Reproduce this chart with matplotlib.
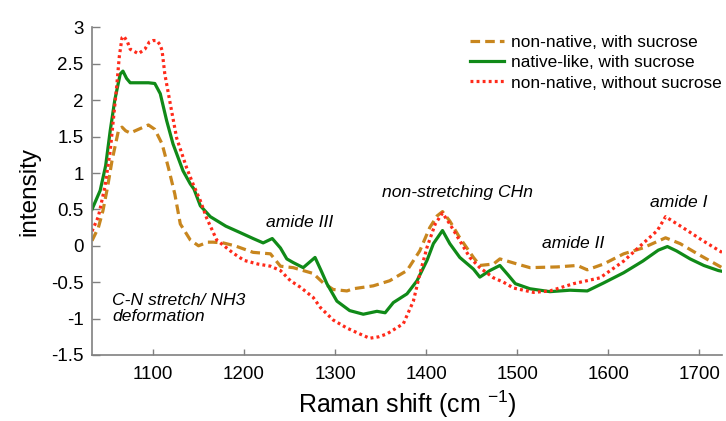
import matplotlib
matplotlib.use("Agg")
import matplotlib.pyplot as plt

plt.rcParams["font.family"] = ["Liberation Sans", "DejaVu Sans"]
plt.rcParams["mathtext.fontset"] = "custom"
plt.rcParams["mathtext.rm"] = "Liberation Sans"
plt.rcParams["mathtext.it"] = "Liberation Sans:italic"

# --- DATA ---
native_x = [1033, 1042, 1048, 1053, 1058, 1064, 1067, 1071, 1075, 1085, 1095, 1102, 1108,
            1115, 1122, 1133, 1141, 1145, 1152, 1163, 1180, 1196, 1210, 1221, 1231, 1240,
            1247, 1254, 1265, 1278, 1285, 1291, 1302, 1316, 1331, 1346, 1355, 1364, 1379,
            1390, 1401, 1408, 1418, 1426, 1437, 1452, 1459, 1470, 1481, 1490, 1498, 1514,
            1536, 1558, 1577, 1595, 1617, 1638, 1655, 1665, 1675, 1690, 1705, 1721, 1725]
native_y = [0.50, 0.76, 1.10, 1.58, 2.00, 2.36, 2.40, 2.30, 2.24, 2.24, 2.24, 2.23, 2.09,
            1.72, 1.40, 1.03, 0.85, 0.78, 0.55, 0.40, 0.27, 0.18, 0.10, 0.04, 0.10, -0.03,
            -0.18, -0.23, -0.30, -0.16, -0.35, -0.52, -0.76, -0.89, -0.94, -0.90, -0.92, -0.78, -0.66,
            -0.48, -0.20, 0.03, 0.21, 0.03, -0.16, -0.32, -0.43, -0.34, -0.27, -0.40, -0.52, -0.59,
            -0.63, -0.61, -0.62, -0.51, -0.37, -0.21, -0.06, -0.01, -0.07, -0.18, -0.27, -0.34, -0.35]

nosuc_x = [1033, 1040, 1047, 1053, 1057, 1060, 1063, 1066, 1068, 1072, 1075, 1084, 1091,
           1096, 1100, 1104, 1108, 1110, 1113, 1119, 1126, 1137, 1144, 1152, 1159, 1170,
           1188, 1200, 1215, 1229, 1240, 1251, 1262, 1276, 1284, 1298, 1313, 1327, 1338,
           1348, 1357, 1375, 1386, 1393, 1401, 1410, 1418, 1426, 1437, 1448, 1459, 1474,
           1485, 1496, 1518, 1536, 1562, 1591, 1617, 1638, 1654, 1663, 1682, 1704, 1725]
nosuc_y = [0.20, 0.40, 0.80, 1.30, 1.80, 2.17, 2.60, 2.86, 2.88, 2.80, 2.70, 2.64, 2.70,
           2.80, 2.82, 2.82, 2.76, 2.68, 2.36, 1.95, 1.48, 1.07, 0.85, 0.62, 0.38, 0.08,
           -0.10, -0.20, -0.25, -0.28, -0.34, -0.48, -0.57, -0.71, -0.85, -1.02, -1.13, -1.21, -1.27,
           -1.25, -1.21, -1.07, -0.76, -0.39, -0.02, 0.30, 0.45, 0.30, 0.07, -0.16, -0.30, -0.44,
           -0.50, -0.58, -0.64, -0.62, -0.52, -0.44, -0.21, 0.03, 0.21, 0.40, 0.25, 0.07, -0.09]

suc_x = [1033, 1040, 1045, 1050, 1055, 1062, 1066, 1070, 1075, 1084, 1095, 1102, 1110,
         1117, 1124, 1130, 1141, 1150, 1160, 1166, 1177, 1190, 1210, 1229, 1240, 1254,
         1276, 1287, 1298, 1313, 1320, 1342, 1360, 1379, 1393, 1404, 1412, 1418, 1426,
         1437, 1452, 1459, 1474, 1481, 1500, 1514, 1544, 1566, 1577, 1595, 1617, 1638,
         1663, 1679, 1698, 1725]
suc_y = [0.07, 0.25, 0.48, 0.80, 1.17, 1.58, 1.63, 1.58, 1.55, 1.60, 1.66, 1.60, 1.40,
         1.07, 0.71, 0.30, 0.08, 0.00, 0.05, 0.05, 0.04, 0.00, -0.09, -0.11, -0.28, -0.30,
         -0.38, -0.51, -0.60, -0.62, -0.59, -0.55, -0.48, -0.34, -0.07, 0.25, 0.41, 0.47, 0.34,
         0.11, -0.16, -0.27, -0.25, -0.18, -0.25, -0.30, -0.29, -0.27, -0.33, -0.25, -0.11, -0.03,
         0.11, 0.03, -0.11, -0.30]

series_labels = ["non-native, with sucrose", "native-like, with sucrose", "non-native, without sucrose"]

x_ticks = [1100, 1200, 1300, 1400, 1500, 1600, 1700]
y_ticks = [-1.5, -1, -0.5, 0, 0.5, 1, 1.5, 2, 2.5, 3]
y_tick_labels = ["-1.5", "-1", "-0.5", "0", "0.5", "1", "1.5", "2", "2.5", "3"]

# band annotations: (text, x, y)
bands = [
    ("amide III", 1224, 0.32),
    ("non-stretching CHn", 1352, 0.73),
    ("amide II", 1527, 0.03),
    ("amide I", 1646, 0.59),
    ("C-N stretch/ NH3\ndeformation", 1055, -0.86),
]

fig = plt.figure(figsize=(7.26, 4.21), dpi=100)
ax = fig.add_axes([0.1267, 0.1568, 0.8678, 0.778])

ax.plot(suc_x, suc_y, color="#C8861E", lw=2.3, dashes=(3.0, 1.6), label=series_labels[0])
ax.plot(native_x, native_y, color="#108A18", lw=2.3, label=series_labels[1])
ax.plot(nosuc_x, nosuc_y, color="#FF2A1A", lw=2.3, dashes=(0.9, 1.0), label=series_labels[2])

ax.set_xlim(1033, 1725)
ax.set_ylim(-1.5, 3)
ax.set_xticks(x_ticks)
ax.set_yticks(y_ticks)
ax.set_yticklabels(y_tick_labels)
ax.tick_params(axis="both", direction="in", labelsize=13.5, color="#808080", width=1.0)
ax.tick_params(axis="y", length=6, pad=6)
ax.tick_params(axis="x", length=4, pad=8)

for side in ["top", "right"]:
    ax.spines[side].set_visible(False)
for side in ["left", "bottom"]:
    ax.spines[side].set_color("#808080")
    ax.spines[side].set_linewidth(1.2)

ax.set_xlabel(r"Raman shift (cm $^{-1}$)", fontsize=18, labelpad=4)
ax.set_ylabel("intensity", fontsize=17.5, labelpad=8)

for txt, bx, by in bands:
    ax.text(bx, by, txt, fontsize=12.6, style="italic", ha="left", va="center", linespacing=1.1)

ax.legend(loc="upper left", bbox_to_anchor=(470 / 726, 1 - 35 / 421), bbox_transform=fig.transFigure,
          frameon=False, fontsize=12.4, handlelength=2.0, handletextpad=0.4,
          borderpad=0, borderaxespad=0, labelspacing=0.3)

fig.savefig("out.png", dpi=100)
